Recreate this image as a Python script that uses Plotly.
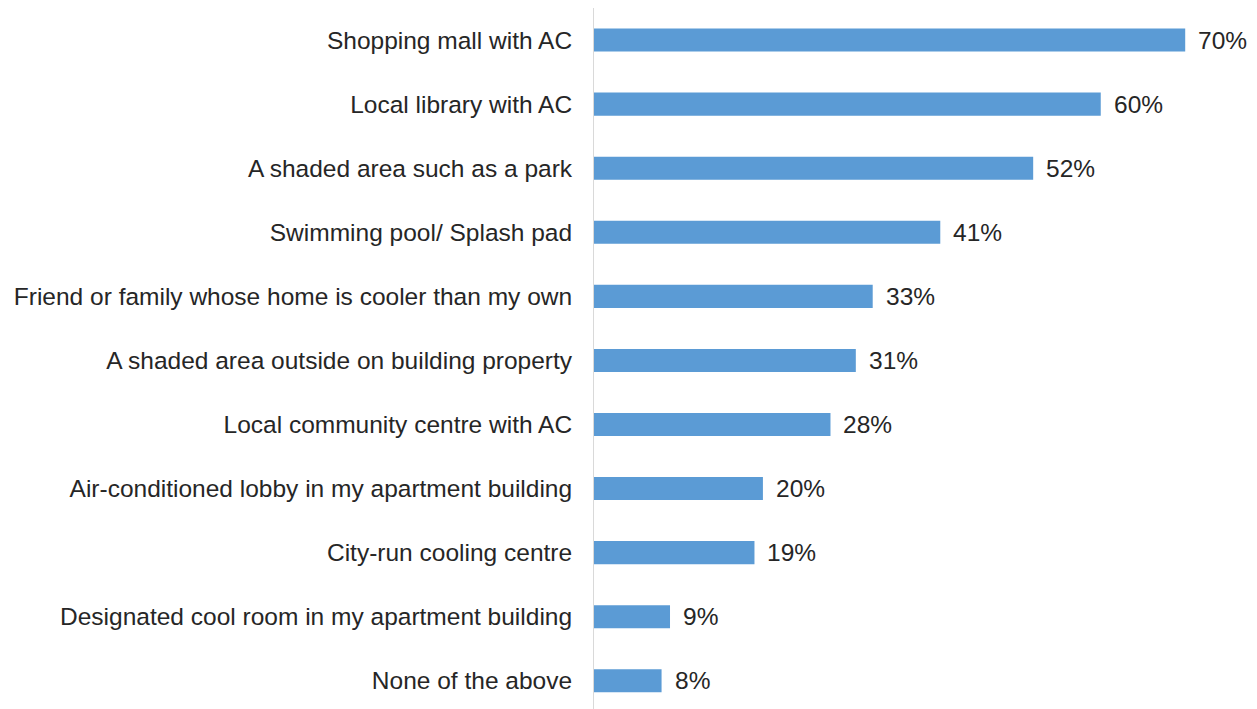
import plotly.graph_objects as go

categories = [
    "Shopping mall with AC",
    "Local library with AC",
    "A shaded area such as a park",
    "Swimming pool/ Splash pad",
    "Friend or family whose home is cooler than my own",
    "A shaded area outside on building property",
    "Local community centre with AC",
    "Air-conditioned lobby in my apartment building",
    "City-run cooling centre",
    "Designated cool room in my apartment building",
    "None of the above",
]
values = [70, 60, 52, 41, 33, 31, 28, 20, 19, 9, 8]
labels = [f"{v}%" for v in values]

FONT = "Liberation Sans, Arial, sans-serif"
TEXT_COLOR = "#262626"
FS = 24.5

fig = go.Figure(
    go.Bar(
        x=values,
        y=categories,
        orientation="h",
        marker=dict(color="#5B9BD5", line=dict(width=0)),
        width=0.36,
        hoverinfo="skip",
    )
)

for c, v, t in zip(categories, values, labels):
    fig.add_annotation(
        x=v, y=c, text=t, xanchor="left", yanchor="middle",
        xshift=11, showarrow=False,
        font=dict(family=FONT, size=FS, color=TEXT_COLOR),
    )

fig.update_layout(
    width=1257, height=709,
    margin=dict(l=594, r=0, t=8, b=0),
    paper_bgcolor="white", plot_bgcolor="white",
    showlegend=False,
    font=dict(family=FONT, size=FS, color=TEXT_COLOR),
    xaxis=dict(range=[0, 78.5], visible=False, showgrid=False, zeroline=False),
    yaxis=dict(
        range=[10.44, -0.5],
        showline=True, linecolor="#d9d9d9", linewidth=1,
        showgrid=False, zeroline=False,
        ticks="", ticklabelstandoff=16,
        tickfont=dict(family=FONT, size=FS, color=TEXT_COLOR),
    ),
)

fig.write_html("out.html")
